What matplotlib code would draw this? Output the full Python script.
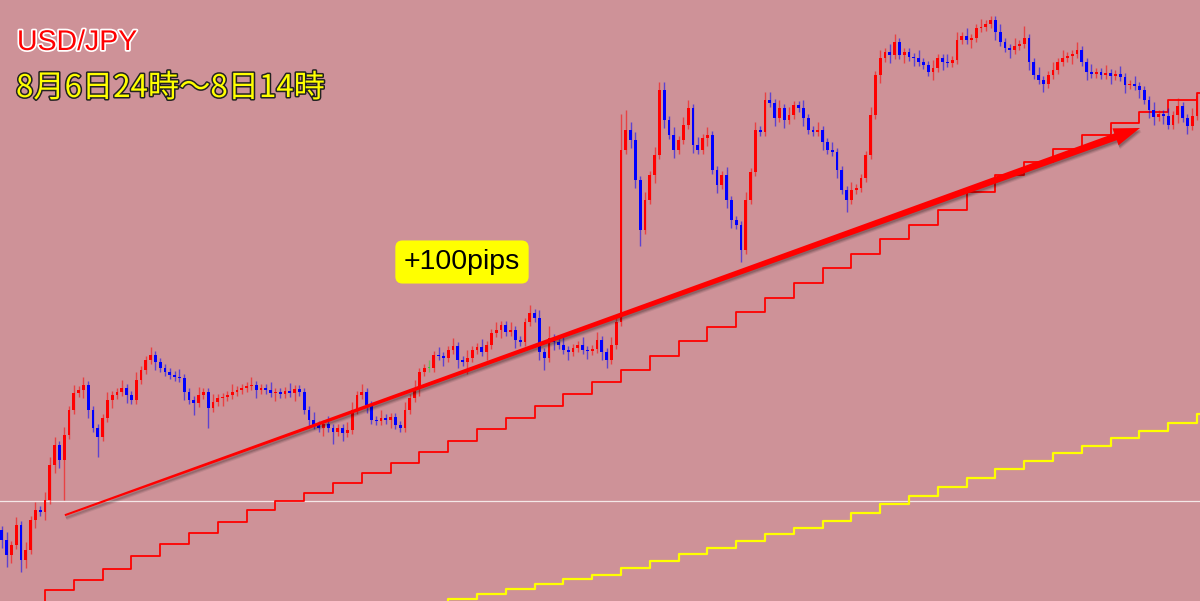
import numpy as np
import matplotlib
matplotlib.use("Agg")
import matplotlib.pyplot as plt
import matplotlib.patheffects as pe
from matplotlib.patches import Polygon

# USD/JPY 10-minute candles, 8/6 24:00 -> 8/8 14:00 (x axis in hours)
first_open = 144.075
closes = [
    144.050, 144.013, 144.038, 144.088, 144.000, 144.025, 144.100, 144.125, 144.120, 144.150,
    144.238, 144.288, 144.250, 144.313, 144.375, 144.418, 144.425, 144.438, 144.375, 144.330,
    144.308, 144.355, 144.400, 144.413, 144.420, 144.430, 144.413, 144.400, 144.450, 144.475,
    144.500, 144.513, 144.495, 144.480, 144.470, 144.463, 144.458, 144.455, 144.420, 144.400,
    144.393, 144.413, 144.420, 144.380, 144.395, 144.405, 144.408, 144.413, 144.420, 144.425,
    144.430, 144.435, 144.438, 144.425, 144.430, 144.425, 144.418, 144.420, 144.415, 144.423,
    144.418, 144.428, 144.420, 144.375, 144.350, 144.338, 144.330, 144.340, 144.330, 144.320,
    144.330, 144.318, 144.325, 144.375, 144.413, 144.420, 144.388, 144.350, 144.348, 144.355,
    144.350, 144.358, 144.338, 144.330, 144.375, 144.405, 144.430, 144.470, 144.480, 144.480,
    144.513, 144.510, 144.505, 144.525, 144.535, 144.500, 144.495, 144.505, 144.525, 144.533,
    144.520, 144.538, 144.568, 144.575, 144.588, 144.570, 144.575, 144.550, 144.545, 144.595,
    144.618, 144.605, 144.520, 144.505, 144.555, 144.545, 144.538, 144.525, 144.520, 144.530,
    144.538, 144.525, 144.523, 144.528, 144.550, 144.520, 144.500, 144.538, 144.595, 145.025,
    145.075, 145.050, 144.950, 144.825, 144.900, 144.963, 145.013, 145.175, 145.100, 145.063,
    145.025, 145.050, 145.088, 145.130, 145.038, 145.025, 145.055, 145.063, 144.975, 144.938,
    144.963, 144.900, 144.850, 144.838, 144.775, 144.900, 144.970, 145.075, 145.070, 145.150,
    145.143, 145.105, 145.130, 145.100, 145.113, 145.138, 145.130, 145.105, 145.075, 145.070,
    145.075, 145.045, 145.025, 145.020, 144.975, 144.925, 144.900, 144.925, 144.930, 144.955,
    145.013, 145.113, 145.213, 145.255, 145.270, 145.263, 145.295, 145.263, 145.270, 145.258,
    145.255, 145.245, 145.238, 145.220, 145.230, 145.255, 145.245, 145.243, 145.250, 145.300,
    145.310, 145.300, 145.305, 145.330, 145.333, 145.340, 145.350, 145.320, 145.295, 145.280,
    145.275, 145.285, 145.290, 145.305, 145.245, 145.213, 145.200, 145.190, 145.213, 145.225,
    145.245, 145.255, 145.260, 145.265, 145.275, 145.245, 145.220, 145.215, 145.220, 145.213,
    145.218, 145.210, 145.215, 145.208, 145.188, 145.190, 145.185, 145.175, 145.150, 145.125,
    145.108, 145.115, 145.110, 145.088, 145.113, 145.135, 145.105, 145.085, 145.110, 145.160,
]
# wick lengths above / below the body, in pips
upper_wick = [
    1, 2, 1, 2, 1, 2, 1, 2, 1, 2,
    2, 2, 1, 2, 1, 2, 1, 2, 1, 1,
    1, 1, 2, 1, 1, 2, 1, 1, 2, 1,
    1, 2, 1, 1, 1, 1, 1, 2, 1, 1,
    1, 2, 1, 1, 2, 1, 1, 1, 2, 1,
    1, 1, 2, 1, 1, 1, 2, 1, 1, 1,
    2, 1, 1, 1, 1, 2, 1, 1, 2, 1,
    1, 1, 2, 2, 1, 2, 1, 1, 1, 2,
    1, 1, 1, 1, 2, 1, 2, 1, 1, 2,
    1, 2, 1, 1, 2, 1, 1, 2, 1, 1,
    2, 1, 1, 2, 1, 1, 2, 1, 1, 1,
    2, 1, 2, 1, 3, 1, 1, 2, 1, 1,
    1, 2, 1, 1, 2, 1, 1, 2, 1, 9,
    5, 2, 2, 1, 2, 1, 2, 2, 2, 1,
    2, 1, 2, 2, 1, 2, 1, 2, 1, 1,
    1, 2, 1, 1, 1, 2, 1, 2, 1, 2,
    2, 1, 2, 1, 2, 1, 1, 2, 1, 1,
    2, 1, 1, 2, 1, 1, 1, 2, 1, 1,
    1, 2, 1, 2, 1, 2, 2, 1, 1, 1,
    1, 2, 1, 1, 2, 1, 1, 2, 1, 2,
    1, 2, 1, 1, 2, 1, 1, 1, 2, 1,
    1, 2, 1, 3, 1, 1, 2, 1, 1, 2,
    1, 2, 1, 1, 2, 1, 1, 2, 1, 1,
    2, 1, 1, 2, 1, 1, 2, 1, 1, 1,
    2, 1, 1, 2, 1, 2, 1, 1, 2, 1,
]
lower_wick = [
    2, 3, 2, 1, 3, 2, 1, 2, 1, 2,
    1, 2, 2, 10, 1, 1, 1, 2, 2, 1,
    5, 1, 1, 2, 1, 1, 2, 1, 1, 1,
    1, 1, 2, 1, 1, 1, 1, 1, 2, 1,
    3, 1, 1, 5, 1, 1, 2, 1, 1, 1,
    1, 1, 1, 2, 1, 1, 1, 2, 1, 1,
    1, 2, 1, 1, 2, 1, 1, 2, 1, 3,
    1, 2, 1, 1, 1, 1, 2, 1, 1, 1,
    1, 2, 1, 1, 1, 1, 1, 2, 1, 1,
    1, 1, 2, 1, 1, 2, 1, 3, 1, 1,
    1, 2, 1, 1, 2, 1, 1, 2, 1, 1,
    1, 1, 2, 3, 1, 2, 1, 1, 2, 1,
    1, 1, 2, 1, 1, 2, 2, 1, 1, 1,
    1, 2, 2, 4, 1, 1, 2, 1, 2, 1,
    2, 1, 1, 1, 2, 1, 1, 2, 1, 2,
    1, 2, 2, 1, 3, 1, 1, 1, 1, 1,
    1, 2, 1, 2, 1, 1, 1, 2, 1, 1,
    1, 2, 1, 1, 2, 1, 3, 1, 1, 1,
    1, 1, 1, 2, 1, 2, 1, 1, 2, 1,
    2, 1, 1, 1, 2, 1, 2, 1, 1, 1,
    1, 1, 2, 1, 1, 1, 1, 2, 1, 1,
    2, 1, 1, 1, 2, 1, 1, 2, 1, 1,
    1, 1, 1, 2, 1, 1, 2, 1, 1, 1,
    1, 2, 1, 1, 2, 1, 1, 2, 1, 2,
    2, 1, 2, 1, 1, 2, 1, 2, 1, 1,
]
candle_start_hour = -1.5

# hourly step lines (level after each hour k)
red_hours = list(range(-1, 41))
red_levels = [
    143.885, 143.925, 143.950, 143.978, 144.010, 144.040, 144.068, 144.095, 144.125, 144.148,
    144.168, 144.193, 144.218, 144.243, 144.270, 144.298, 144.328, 144.355, 144.385, 144.415,
    144.445, 144.475, 144.510, 144.548, 144.583, 144.620, 144.655, 144.693, 144.730, 144.765,
    144.803, 144.838, 144.875, 144.920, 144.963, 144.995, 145.028, 145.063, 145.093, 145.120,
    145.150, 145.168,
]
yellow_hours = list(range(12, 41))
yellow_levels = [
    143.875, 143.890, 143.903, 143.915, 143.928, 143.940, 143.953, 143.963, 143.980, 143.998,
    144.015, 144.030, 144.048, 144.065, 144.080, 144.098, 144.118, 144.140, 144.160, 144.183,
    144.205, 144.228, 144.248, 144.268, 144.285, 144.305, 144.323, 144.343, 144.365,
]
price_line = 144.148

arrow_start = (0.69, 144.112)
arrow_end = (38.02, 145.080)

title = "USD/JPY"
period = "8月6日24時～8日14時"
gain_label = "+100pips"

BG = "#CE9298"

closes = np.array(closes)
opens = np.concatenate([[first_open], closes[:-1]])
highs = np.maximum(opens, closes) + np.array(upper_wick) / 100
lows = np.minimum(opens, closes) - np.array(lower_wick) / 100
t = candle_start_hour + np.arange(len(closes)) / 6

colors = np.where(closes > opens, "#FF0000", np.where(closes < opens, "#0000FF", "#33CC33"))

fig = plt.figure(figsize=(12, 6.01), dpi=100, facecolor=BG)
ax = fig.add_axes([0, 0, 1, 1])
ax.set_facecolor(BG)
ax.set_xlim(-45 / 28.8, 1155 / 28.8)
ax.set_ylim(145.40 - 601 / 400, 145.40)
ax.axis("off")

ax.axhline(price_line, color="#F4E8E8", lw=0.9, zorder=1)

ax.step(red_hours + [41], red_levels + [red_levels[-1]], where="post",
        color="#FF0000", lw=1.3, zorder=2)
ax.step(yellow_hours + [41], yellow_levels + [yellow_levels[-1]], where="post",
        color="#FFFF00", lw=1.6, zorder=2)

ax.vlines(t, lows, highs, colors=colors, lw=1.0, alpha=0.55, zorder=3)
heights = np.where(closes == opens, 0.002, closes - opens)
ax.bar(t, heights, bottom=opens, width=0.1, color=colors, linewidth=0, zorder=4)

# tapered arrow, built in pixel space then mapped back to data
fig.canvas.draw()
to_px = ax.transData.transform
to_data = ax.transData.inverted().transform
p0 = to_px(arrow_start)
p1 = to_px(arrow_end)
d = (p1 - p0) / np.linalg.norm(p1 - p0)
n = np.array([-d[1], d[0]])
head_len, head_w, tail_w, neck_w = 26, 9, 1.0, 3.6
neck = p1 - d * head_len
pts_px = np.array([
    p0 + n * tail_w,
    neck + n * neck_w,
    neck + n * head_w,
    p1,
    neck - n * head_w,
    neck - n * neck_w,
    p0 - n * tail_w,
])
for off, a in [(4, 0.08), (3, 0.12), (2, 0.15)]:
    ax.add_patch(Polygon(to_data(pts_px + np.array([off * 0.4, -off])), closed=True,
                         facecolor="black", edgecolor="none", alpha=a, zorder=5))
ax.add_patch(Polygon(to_data(pts_px), closed=True, facecolor="#FF0000",
                     edgecolor="none", zorder=6))

fig.text(17 / 1200, 1 - 43 / 601, title, color="#FF0000", fontsize=20.5,
         family=["Liberation Sans", "DejaVu Sans"], va="center", ha="left",
         path_effects=[pe.withStroke(linewidth=2.5, foreground="white")])
fig.text(16 / 1200, 1 - 88 / 601, period, color="#FFFF00", fontsize=22.5,
         family=["Noto Sans CJK JP", "DejaVu Sans"], va="center", ha="left",
         path_effects=[pe.withStroke(linewidth=2.2, foreground="#222222")])
fig.text(462 / 1200, 1 - 262 / 601, gain_label, color="black", fontsize=20.5,
         family=["Liberation Sans", "DejaVu Sans"], va="center", ha="center",
         bbox=dict(boxstyle="round,pad=0.3,rounding_size=0.25", facecolor="#FFFF00",
                   edgecolor="none"))

fig.savefig("out.png", dpi=100, facecolor=BG)
